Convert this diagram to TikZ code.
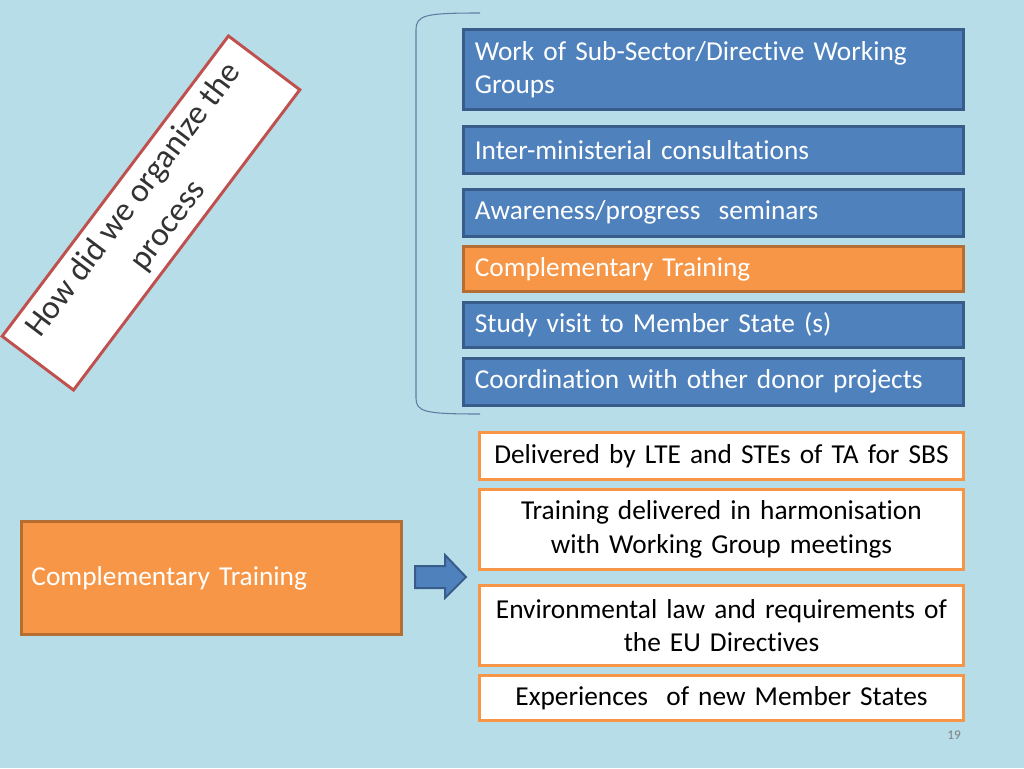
\documentclass[tikz,border=0pt]{standalone}
\usepackage{fontspec}
\setmainfont{Carlito}[Ligatures=NoCommon]
\begin{document}
\begin{tikzpicture}[x=0.75pt,y=-0.75pt,
  bbox/.style={draw=blueb,line width=2.2pt,fill=bluef,text=white,font=\fontsize{20.5}{25}\selectfont,anchor=north west,align=left,inner xsep=7.5pt,text width=358pt,minimum width=375pt},
  obox/.style={bbox,fill=orangef,draw=orangeb},
  wbox/.style={draw=orangef,line width=2.2pt,fill=white,text=black,font=\fontsize{20.5}{25}\selectfont,anchor=north west,align=center,minimum width=363pt,text width=355pt,inner xsep=2pt}]
\definecolor{bg}{HTML}{B7DDE8}
\definecolor{bluef}{HTML}{4F81BD}
\definecolor{blueb}{HTML}{385D8A}
\definecolor{orangef}{HTML}{F79646}
\definecolor{orangeb}{HTML}{B66D31}
\definecolor{redb}{HTML}{C0504D}
\fill[bg] (0,0) rectangle (1024,768);
\useasboundingbox (0,0) rectangle (1024,768);
\node[bbox,minimum height=60pt] (b1) at (462,28) {Work of Sub-Sector/Directive Working\\Groups};
\node[bbox,minimum height=35pt] (b2) at (462,125) {Inter-ministerial consultations};
\node[bbox,minimum height=35pt] (b3) at (462,188) {Awareness/progress\ \ seminars};
\node[obox,minimum height=34pt] (b4) at (462,245) {Complementary Training};
\node[bbox,minimum height=34pt] (b5) at (462,301) {Study visit to Member State (s)};
\node[bbox,minimum height=35pt] (b6) at (462,357) {Coordination with other donor projects};
\draw[blueb!80!white,line width=0.8pt] (480,13) .. controls (425,13) and (416,15) .. (416,30) -- (416,398) .. controls (416,412) and (425,414) .. (480,414);
\node[wbox,minimum height=35pt] (w1) at (478,431) {Delivered by LTE and STEs of TA for SBS};
\node[wbox,minimum height=60pt] (w2) at (478,488) {Training delivered in harmonisation\\with Working Group meetings};
\node[wbox,minimum height=60pt] (w3) at (478,584) {Environmental law and requirements of\\the EU Directives};
\node[wbox,minimum height=34pt] (w4) at (478,674) {Experiences\ \ of new Member States};
\node[obox,anchor=north west,minimum width=283pt,text width=270pt,minimum height=85pt] (ct) at (20,520) {Complementary Training};
\draw[blueb,fill=bluef,line width=1.5pt] (415,566) -- (445,566) -- (445,555) -- (466,577) -- (445,598) -- (445,588) -- (415,588) -- cycle;
\node[draw=redb,line width=2.2pt,fill=white,rotate=53,minimum width=282pt,minimum height=67pt,align=center,text=black!80,font=\fontsize{25}{32}\selectfont,inner sep=1pt] (title) at (151,213) {How did we organize the\\process};
\node[text=gray,font=\rmfamily\fontsize{10}{12}\selectfont] (pg) at (954,735) {19};
\end{tikzpicture}
\end{document}
